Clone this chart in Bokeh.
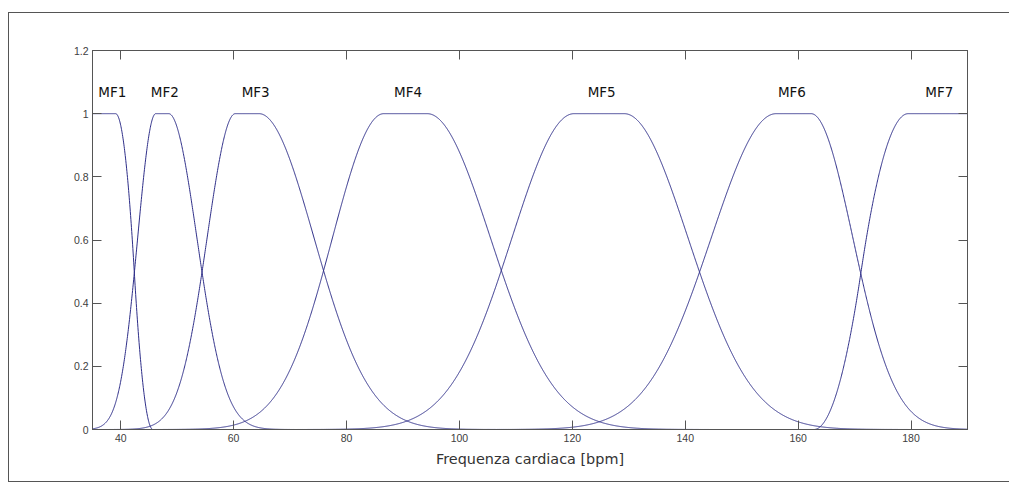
import numpy as np
from bokeh.plotting import figure
from bokeh.models import LinearAxis, FixedTicker, Range1d, CustomLabelingPolicy
from bokeh.embed import file_html
from bokeh.resources import INLINE
from bokeh.core.properties import value

# Membership functions of the heart-rate input variable
mf_names = ["MF1", "MF2", "MF3", "MF4", "MF5", "MF6", "MF7"]
mf_types = ["zmf", "gauss2mf", "gauss2mf", "gauss2mf", "gauss2mf", "gauss2mf", "smf"]
mf_params = [
    [39.1, 45.7],
    [3.2, 46.2, 5.0, 48.5],
    [5.0, 60.3, 9.75, 64.5],
    [9.1, 86.6, 11.2, 94.3],
    [11.0, 120.3, 11.3, 129.2],
    [11.5, 156.1, 7.4, 162.3],
    [162.8, 179.5],
]
label_x = [38.5, 47.8, 63.9, 90.9, 125.2, 158.9, 185.0]
label_y = 1.07

x_min, x_max = 35, 190
x_ticks = [40, 60, 80, 100, 120, 140, 160, 180]
y_ticks = [0, 0.2, 0.4, 0.6, 0.8, 1.0, 1.2]
y_tick_labels = ["0", "0.2", "0.4", "0.6", "0.8", "1", "1.2"]


def zmf(x, a, b):
    m = (a + b) / 2.0
    y = np.ones_like(x)
    s1 = (x > a) & (x <= m)
    s2 = (x > m) & (x < b)
    y[s1] = 1 - 2 * ((x[s1] - a) / (b - a)) ** 2
    y[s2] = 2 * ((x[s2] - b) / (b - a)) ** 2
    y[x >= b] = 0.0
    return y


def smf(x, a, b):
    return 1.0 - zmf(x, a, b)


def gauss2mf(x, s1, c1, s2, c2):
    left = np.where(x < c1, np.exp(-((x - c1) ** 2) / (2 * s1 ** 2)), 1.0)
    right = np.where(x > c2, np.exp(-((x - c2) ** 2) / (2 * s2 ** 2)), 1.0)
    return left * right


MF_FUNCS = {"zmf": zmf, "smf": smf, "gauss2mf": gauss2mf}

xs = np.linspace(x_min, x_max, 3101)

border_css = "1px solid #555555"
p = figure(
    width=1001, height=470,
    x_range=Range1d(x_min, x_max), y_range=Range1d(0, 1.2),
    output_backend="svg", toolbar_location=None,
    min_border_left=83, min_border_right=43,
    min_border_top=37, min_border_bottom=54,
    background_fill_color="white", border_fill_color="white",
    styles={"margin-left": "8px", "margin-top": "12px",
            "border-left": border_css, "border-top": border_css,
            "border-bottom": border_css, "border-right": "0px none"},
)
p.xgrid.visible = False
p.ygrid.visible = False
p.outline_line_color = "#555555"

curve_color = "#2e2e88"
for kind, params in zip(mf_types, mf_params):
    ys = MF_FUNCS[kind](xs, *params)
    p.line(xs, ys, line_color=curve_color, line_width=1)

p.text(x=label_x, y=[label_y] * len(mf_names), text=mf_names,
       text_font=value("DejaVu Sans"), text_font_size="13.5px",
       text_align="center", text_baseline="middle", text_color="#111111")

axis_color = "#555555"
label_color = "#404040"

# mirror axes carry tick marks only
no_labels = CustomLabelingPolicy(code="""
    const all = [...indices]
    for (const i of all) indices.unset(i)
    return indices
""")


def style_axis(ax, ticks):
    ax.ticker = FixedTicker(ticks=ticks)
    ax.axis_line_color = axis_color
    ax.major_tick_line_color = axis_color
    ax.major_tick_in = 9
    ax.major_tick_out = 0
    ax.minor_tick_line_color = None
    ax.major_label_text_font = "Liberation Sans"
    ax.major_label_text_font_size = "10.5px"
    ax.major_label_text_color = label_color
    ax.major_label_standoff = 4


style_axis(p.xaxis[0], x_ticks)
style_axis(p.yaxis[0], y_ticks)
p.yaxis[0].major_label_overrides = {t: s for t, s in zip(y_ticks, y_tick_labels)}

p.xaxis[0].axis_label = "Frequenza cardiaca [bpm]"
p.xaxis[0].axis_label_text_font = "DejaVu Sans"
p.xaxis[0].axis_label_text_font_size = "14.4px"
p.xaxis[0].axis_label_text_font_style = "normal"
p.xaxis[0].axis_label_text_color = "#333333"
p.xaxis[0].axis_label_standoff = 6

top_axis = LinearAxis(major_label_policy=no_labels)
style_axis(top_axis, x_ticks)
p.add_layout(top_axis, "above")

right_axis = LinearAxis(major_label_policy=no_labels)
style_axis(right_axis, y_ticks)
p.add_layout(right_axis, "right")

open("out.html", "w").write(file_html(p, INLINE))
